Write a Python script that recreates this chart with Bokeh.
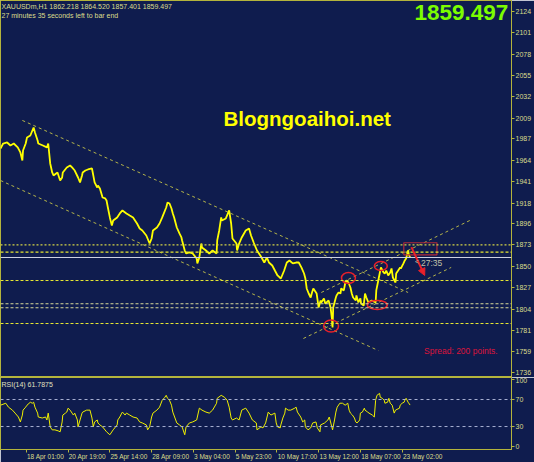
from bokeh.plotting import figure
from bokeh.layouts import column
from bokeh.models import Range1d, FixedTicker, Label, Span, Arrow, NormalHead
from bokeh.embed import file_html
from bokeh.resources import INLINE

# ---------------- data (bar index = hourly bar number) ----------------
price_bar = [0, 4, 10, 15, 20, 26, 30, 33, 34, 38,
             40, 45, 50, 52, 56, 57, 64, 70, 72, 75,
             78, 80, 86, 90, 93, 94, 100, 105, 108, 112,
             117, 120, 123, 124, 128, 132, 138, 140, 142, 146,
             147, 150, 154, 158, 160, 162, 165, 168, 170, 176,
             180, 184, 190, 195, 200, 206, 210, 214, 220, 225,
             228, 230, 236, 240, 244, 250, 252, 255, 258, 260,
             262, 266, 270, 273, 274, 278, 280, 285, 290, 296,
             297, 300, 303, 304, 310, 315, 320, 326, 327, 330,
             333, 334, 340, 345, 348, 350, 356, 357, 360, 364,
             370, 375, 378, 382, 387, 393, 398, 402, 405, 410,
             414, 418, 423, 428, 432, 436, 441, 446, 450, 454,
             458, 460, 462, 465, 468, 470, 472, 476, 477, 480,
             483, 484, 488, 490, 492, 495, 498, 500, 501, 502,
             506, 507, 510, 513, 514, 518, 520, 522, 525, 528,
             530, 532, 536, 537, 540, 543, 544, 548, 550, 552,
             555, 560, 566, 567, 570, 573, 574, 578, 580, 582,
             585, 588, 590, 592, 596, 597, 600, 603, 604, 608,
             610, 612, 615, 616, 618]
price_close = [1976.6, 1981.9, 1983.0, 1979.8, 1981.9, 1977.7, 1972.3, 1963.7, 1974.4, 1981.9,
               1988.4, 1990.5, 1999.1, 1993.8, 1985.2, 1981.9, 1979.8, 1977.7, 1981.9, 1960.5,
               1950.8, 1947.6, 1950.8, 1942.2, 1945.4, 1950.8, 1956.2, 1958.3, 1956.2, 1952.9,
               1945.4, 1940.1, 1947.6, 1950.8, 1952.9, 1954.0, 1955.1, 1947.6, 1940.1, 1934.7,
               1936.8, 1933.6, 1923.9, 1922.9, 1920.7, 1913.2, 1902.5, 1893.9, 1899.2, 1902.5,
               1906.8, 1910.0, 1906.8, 1904.6, 1902.5, 1896.0, 1890.6, 1888.5, 1883.1, 1874.5,
               1879.9, 1888.5, 1891.7, 1896.0, 1902.5, 1913.2, 1918.6, 1917.5, 1912.1, 1906.8,
               1902.5, 1891.7, 1885.3, 1881.0, 1877.8, 1867.0, 1863.8, 1864.9, 1863.8, 1858.4,
               1853.1, 1859.5, 1874.5, 1870.2, 1867.0, 1863.8, 1867.0, 1863.8, 1877.8, 1888.5,
               1902.5, 1899.2, 1901.4, 1910.0, 1896.0, 1879.9, 1874.5, 1867.0, 1874.5, 1881.0,
               1888.5, 1890.6, 1883.1, 1875.6, 1867.0, 1860.6, 1854.1, 1859.5, 1854.1, 1850.9,
               1845.5, 1840.2, 1836.9, 1845.5, 1854.1, 1856.3, 1853.1, 1854.1, 1854.1, 1848.8,
               1842.3, 1836.9, 1826.2, 1820.8, 1816.5, 1821.9, 1826.2, 1821.9, 1820.8, 1805.8,
               1813.3, 1811.2, 1815.5, 1810.1, 1811.2, 1813.3, 1805.8, 1794.0, 1784.3, 1805.8,
               1816.5, 1818.7, 1821.9, 1820.8, 1826.2, 1824.1, 1831.6, 1834.8, 1832.6, 1827.3,
               1820.8, 1816.5, 1813.3, 1818.7, 1811.2, 1815.5, 1810.1, 1807.9, 1820.8, 1816.5,
               1811.2, 1813.3, 1811.2, 1824.1, 1834.8, 1845.5, 1848.8, 1843.4, 1842.3, 1845.5,
               1840.2, 1843.4, 1847.7, 1838.0, 1832.6, 1842.3, 1845.5, 1848.8, 1847.7, 1853.1,
               1856.3, 1858.4, 1867.0, 1862.7, 1859.5]

rsi_bar = [0, 8, 12, 18, 22, 27, 30, 33, 34, 38,
           40, 45, 48, 50, 52, 56, 57, 63, 68, 70,
           72, 75, 78, 82, 87, 90, 93, 94, 98, 100,
           102, 105, 108, 110, 112, 116, 117, 120, 123, 124,
           130, 135, 138, 140, 142, 146, 147, 150, 154, 160,
           165, 170, 176, 177, 180, 183, 184, 188, 190, 195,
           200, 206, 210, 214, 220, 222, 225, 228, 230, 236,
           240, 244, 248, 250, 252, 255, 258, 260, 266, 270,
           274, 278, 280, 285, 290, 296, 300, 304, 310, 315,
           320, 326, 327, 333, 338, 342, 345, 348, 350, 356,
           360, 364, 370, 375, 380, 386, 387, 393, 396, 400,
           404, 408, 414, 416, 418, 422, 423, 426, 429, 430,
           434, 438, 444, 446, 448, 453, 456, 459, 460, 464,
           468, 471, 476, 478, 482, 483, 489, 494, 496, 498,
           501, 504, 506, 508, 512, 516, 520, 524, 526, 528,
           531, 534, 536, 538, 542, 543, 546, 549, 550, 554,
           556, 561, 564, 566, 568, 572, 573, 576, 579, 580,
           584, 586, 588, 591, 594, 596, 602, 603, 606, 609,
           610, 612, 615, 618]
rsi_value = [61.6, 64.5, 58.7, 54.3, 49.9, 44.1, 36.8, 47.0, 54.3, 58.7,
             61.6, 66.0, 64.5, 66.0, 58.7, 49.9, 44.1, 42.6, 44.1, 39.7,
             49.9, 29.5, 25.1, 25.1, 23.6, 22.2, 36.8, 47.0, 49.9, 51.4,
             57.2, 54.3, 49.9, 47.0, 49.9, 39.7, 29.5, 39.7, 49.9, 51.4,
             54.3, 54.3, 42.6, 29.5, 36.8, 39.7, 35.3, 32.4, 29.5, 22.2,
             17.8, 25.1, 32.4, 39.7, 44.1, 49.9, 51.4, 47.0, 49.9, 47.0,
             44.1, 42.6, 36.8, 35.3, 32.4, 25.1, 29.5, 44.1, 49.9, 54.3,
             58.7, 68.9, 73.3, 76.2, 71.8, 68.9, 61.6, 51.4, 35.3, 32.4,
             29.5, 17.8, 29.5, 35.3, 36.8, 39.7, 57.2, 54.3, 51.4, 49.9,
             54.3, 64.5, 71.8, 76.2, 73.3, 68.9, 58.7, 42.6, 39.7, 42.6,
             39.7, 54.3, 57.2, 49.9, 39.7, 35.3, 25.1, 29.5, 28.0, 35.3,
             51.4, 47.0, 49.9, 35.3, 29.5, 28.0, 32.4, 42.6, 49.9, 57.2,
             54.3, 54.3, 57.2, 58.7, 51.4, 44.1, 36.8, 39.7, 29.5, 25.1,
             28.0, 35.3, 36.8, 28.0, 22.2, 32.4, 35.3, 39.7, 44.1, 36.8,
             25.1, 39.7, 51.4, 58.7, 64.5, 64.5, 61.6, 64.5, 54.3, 49.9,
             47.0, 42.6, 36.8, 35.3, 39.7, 49.9, 51.4, 57.2, 54.3, 51.4,
             49.9, 47.0, 44.1, 68.9, 76.2, 79.1, 73.3, 71.8, 68.9, 64.5,
             66.0, 71.8, 64.5, 61.6, 49.9, 54.3, 57.2, 61.6, 64.5, 66.0,
             68.9, 71.8, 66.0, 61.8]

time_ticks = [39, 102, 165, 228, 291, 354, 417, 480, 543, 606]
time_labels = ["18 Apr 01:00", "20 Apr 19:00", "25 Apr 14:00", "28 Apr 09:00",
               "3 May 04:00", "5 May 23:00", "10 May 17:00", "13 May 12:00",
               "18 May 07:00", "23 May 02:00"]
price_ticks = [1736, 1759, 1781, 1804, 1827, 1850, 1873, 1896, 1918,
               1941, 1964, 1987, 2009, 2032, 2055, 2078, 2101, 2124]
rsi_ticks = [0, 30, 70, 100]
rsi_levels = [70, 30]

last_price = 1859.497
bar_open, bar_high, bar_low = 1862.218, 1864.520, 1857.401
rsi_last = 61.7875

# horizontal levels drawn on the chart
level_price = [1873.1, 1865.2, 1834.8, 1809.8, 1805.5, 1788.6]
level_color = ["#d2d246", "#e6e632", "#e6e632", "#d8d89a", "#d8d89a", "#e6e632"]
level_dash = ["2 2", "3 2", "3 2", "3 2", "3 2", "3 2"]

# trend lines (bar, price) pairs
trend_x = [[33, 615], [0, 570], [457, 680], [484, 708]]
trend_y = [[2006.7, 1821.9], [1942.2, 1759.6], [1772.5, 1848.8], [1821.9, 1899.2]]

# red marks
mark_x = [498.8, 525.0, 573.8, 568.5]
mark_y = [1785.9, 1837.5, 1850.4, 1808.5]
mark_w = [22.5, 21.0, 19.5, 30.0]
mark_h = [12.9, 11.8, 9.7, 9.7]

BG = "#0f1c4e"
OLIVE = "#b4b43c"
LABEL = "#dcdc8c"
RED = "#e8202a"
FONT = "Liberation Sans"
TICK_FONT_PX = 6.5

xr = Range1d(0, 771)

p1 = figure(width=534, height=377, x_range=xr, y_range=Range1d(1730.6, 2135.5),
            x_axis_location=None, y_axis_location="right",
            output_backend="svg", toolbar_location=None,
            min_border_left=0, min_border_top=0, min_border_bottom=0, min_border_right=20)
p1.background_fill_color = BG
p1.border_fill_color = BG
p1.outline_line_color = OLIVE
p1.grid.visible = False
ya = p1.yaxis[0]
ya.ticker = FixedTicker(ticks=price_ticks)
ya.major_label_text_font = FONT
ya.major_label_text_font_size = "7px"
ya.major_label_text_color = LABEL
ya.axis_line_color = OLIVE
ya.major_tick_line_color = OLIVE
ya.major_tick_out = 3
ya.major_tick_in = 0
ya.minor_tick_line_color = None
ya.major_label_standoff = 1

for lp, lc, ld in zip(level_price, level_color, level_dash):
    p1.add_layout(Span(location=lp, dimension="width", line_color=lc,
                       line_dash=ld, line_width=1.2))
p1.add_layout(Span(location=last_price, dimension="width", line_color="#d0d4e4",
                   line_width=1))

for tx, ty in zip(trend_x, trend_y):
    p1.line(tx, ty, line_color="#b4b44a", line_dash="3 3", line_width=1)

p1.line(price_bar, price_close, line_color="#ffff00", line_width=1.8)

p1.ellipse(x=mark_x, y=mark_y, width=mark_w, height=mark_h,
           fill_color=None, line_color=RED, line_width=1.5)
p1.quad(left=[608.5], right=[658.5], top=[1875.3], bottom=[1862.4],
        fill_color=None, line_color="#b02a3a", line_width=1.2)
p1.add_layout(Arrow(end=NormalHead(size=7, fill_color=RED, line_color=RED),
                    x_start=620, y_start=1870.6, x_end=640, y_end=1840.2,
                    line_color=RED, line_width=2))

# texts
p1.add_layout(Label(x=1, y=2, x_units="canvas", y_units="canvas",
                    text=f"XAUUSDm,H1  {bar_open:.3f} {bar_high:.3f} {bar_low:.3f} {last_price:.3f}",
                    text_font=FONT, text_font_size="7px", text_color=LABEL,
                    text_baseline="top"))
p1.add_layout(Label(x=1, y=11, x_units="canvas", y_units="canvas",
                    text="27 minutes 35 seconds left to bar end",
                    text_font=FONT, text_font_size="7px", text_color=LABEL,
                    text_baseline="top"))
p1.add_layout(Label(x=414, y=4, x_units="canvas", y_units="canvas",
                    text=f"{last_price:.3f}", text_font=FONT,
                    text_font_size="22.5px", text_font_style="bold",
                    text_color="#7cfc00", text_align="left", text_baseline="top"))
p1.add_layout(Label(x=462.8, y=2008.8, text="Blogngoaihoi.net", text_font=FONT,
                    text_font_size="20.5px", text_font_style="bold",
                    text_color="#ffff00", text_align="center", text_baseline="middle"))
p1.add_layout(Label(x=639, y=1754.2, text="Spread: 200 points.", text_font=FONT,
                    text_font_size="8.5px", text_color="#dc143c"))
p1.add_layout(Label(x=625.5, y=1855.7, text="<", text_font=FONT,
                    text_font_size="7px", text_color="#c0c0a8", text_baseline="middle"))
p1.add_layout(Label(x=634.5, y=1854.1, text="27:35", text_font=FONT,
                    text_font_size="8.5px", text_color="#c0c0a8", text_baseline="middle"))

# highlighted price labels on the axis
for lp in level_price + [last_price]:
    p1.add_layout(Label(x=515, y=lp, x_units="canvas", text=f"{lp:.0f}",
                        text_font=FONT, text_font_size="7px",
                        text_color="#10184a", background_fill_color="#ffff00",
                        text_baseline="middle", padding=1))

# ---------------- RSI panel ----------------
p2 = figure(width=534, height=85, x_range=xr, y_range=Range1d(-4.0, 102.6),
            y_axis_location="right", output_backend="svg", toolbar_location=None,
            min_border_left=0, min_border_top=0, min_border_right=20, min_border_bottom=0)
p2.background_fill_color = BG
p2.border_fill_color = BG
p2.outline_line_color = OLIVE
p2.grid.visible = False
for lv in rsi_levels:
    p2.add_layout(Span(location=lv, dimension="width", line_color="#aab2d4",
                       line_dash="3 3", line_width=1))
p2.line(rsi_bar, rsi_value, line_color="#f0f000", line_width=1)

ry = p2.yaxis[0]
ry.ticker = FixedTicker(ticks=rsi_ticks)
ry.major_label_text_font = FONT
ry.major_label_text_font_size = "7px"
ry.major_label_text_color = LABEL
ry.axis_line_color = OLIVE
ry.major_tick_line_color = OLIVE
ry.major_tick_out = 3
ry.major_tick_in = 0
ry.minor_tick_line_color = None
ry.major_label_standoff = 1

# time labels start at their tick (MetaTrader style): label centres are placed
# half a label width to the right of the tick, tick marks drawn as minor ticks
CHAR_W = {" ": 0.278, ":": 0.278, "A": 0.667, "p": 0.556, "r": 0.333,
          "M": 0.833, "a": 0.556, "y": 0.5}
BARS_PER_PX = 771 / 514
label_centers = []
for t, s in zip(time_ticks, time_labels):
    w_px = sum(CHAR_W.get(c, 0.556) for c in s) * TICK_FONT_PX
    label_centers.append(int(round(t + (1 + w_px / 2) * BARS_PER_PX)))

rx = p2.xaxis[0]
rx.ticker = FixedTicker(ticks=label_centers, minor_ticks=time_ticks)
rx.major_label_overrides = {c: s for c, s in zip(label_centers, time_labels)}
rx.major_label_text_font = FONT
rx.major_label_text_font_size = f"{TICK_FONT_PX}px"
rx.major_label_text_color = LABEL
rx.axis_line_color = OLIVE
rx.major_tick_line_color = None
rx.major_tick_out = 2
rx.major_tick_in = 0
rx.minor_tick_line_color = OLIVE
rx.minor_tick_out = 3
rx.minor_tick_in = 0
rx.major_label_standoff = 0

p2.add_layout(Label(x=1, y=3, x_units="canvas", y_units="canvas",
                    text=f"RSI(14) {rsi_last:.4f}", text_font=FONT,
                    text_font_size="7px", text_color="#e0e0c0", text_baseline="top"))

layout = column(p1, p2, spacing=0)
open("out.html", "w").write(file_html(layout, INLINE))
